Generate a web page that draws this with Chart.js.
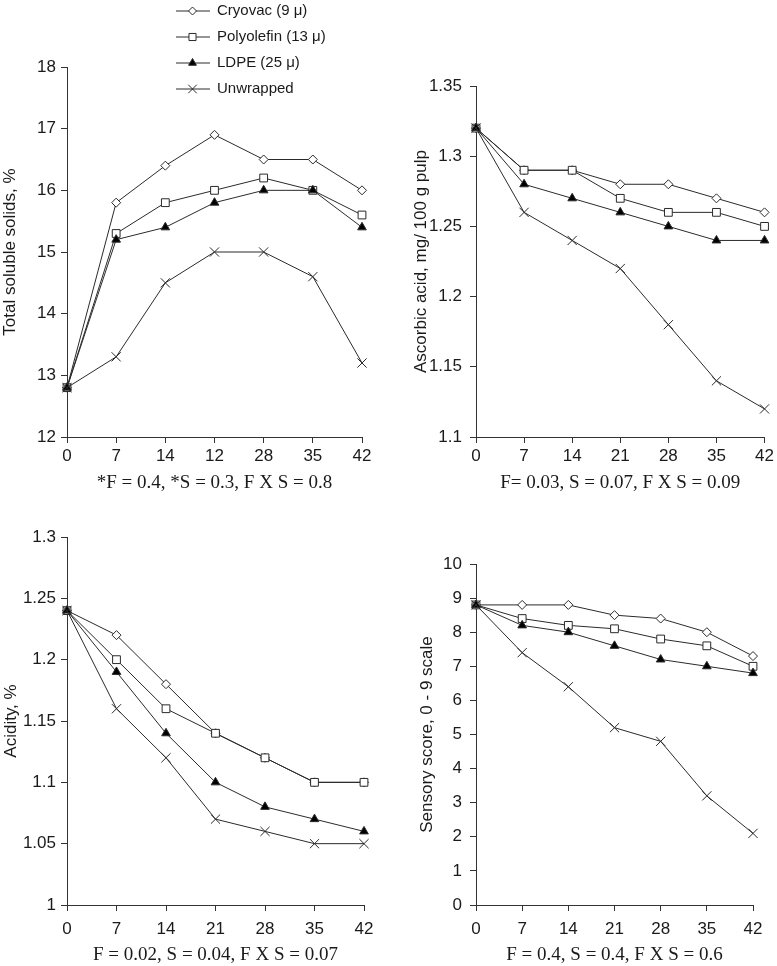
<!DOCTYPE html>
<html>
<head>
<meta charset="utf-8">
<title>Fruit quality under film wrapping</title>
<script src="https://cdn.jsdelivr.net/npm/chart.js@4.4.1/dist/chart.umd.min.js"></script>
<style>
  body { margin: 0; background: #fff; }
  #wrap { position: relative; width: 777px; height: 966px; }
  .panel { position: absolute; }
</style>
</head>
<body>
<div id="wrap">
  <canvas class="panel" id="tss" width="388" height="494" style="left:0;top:0"></canvas>
  <canvas class="panel" id="asc" width="389" height="494" style="left:388px;top:0"></canvas>
  <canvas class="panel" id="acid" width="388" height="472" style="left:0;top:494px"></canvas>
  <canvas class="panel" id="sens" width="389" height="472" style="left:388px;top:494px"></canvas>
</div>
<script>
// storage days (the first panel prints "12" where 21 belongs, kept as in the figure)
const days = ['0', '7', '14', '21', '28', '35', '42'];
const tssDays = ['0', '7', '14', '12', '28', '35', '42'];

const films = ['Cryovac (9 \u03bc)', 'Polyolefin (13 \u03bc)', 'LDPE (25 \u03bc)', 'Unwrapped'];

// Total soluble solids, %
const tssCryovac    = [12.8, 15.8, 16.4, 16.9, 16.5, 16.5, 16.0];
const tssPolyolefin = [12.8, 15.3, 15.8, 16.0, 16.2, 16.0, 15.6];
const tssLdpe       = [12.8, 15.2, 15.4, 15.8, 16.0, 16.0, 15.4];
const tssUnwrapped  = [12.8, 13.3, 14.5, 15.0, 15.0, 14.6, 13.2];
const tssTicks = [12, 13, 14, 15, 16, 17, 18];

// Ascorbic acid, mg/100 g pulp
const ascCryovac    = [1.32, 1.29, 1.29, 1.28, 1.28, 1.27, 1.26];
const ascPolyolefin = [1.32, 1.29, 1.29, 1.27, 1.26, 1.26, 1.25];
const ascLdpe       = [1.32, 1.28, 1.27, 1.26, 1.25, 1.24, 1.24];
const ascUnwrapped  = [1.32, 1.26, 1.24, 1.22, 1.18, 1.14, 1.12];
const ascTicks = [1.1, 1.15, 1.2, 1.25, 1.3, 1.35];

// Acidity, %
const acidCryovac    = [1.24, 1.22, 1.18, 1.14, 1.12, 1.10, 1.10];
const acidPolyolefin = [1.24, 1.20, 1.16, 1.14, 1.12, 1.10, 1.10];
const acidLdpe       = [1.24, 1.19, 1.14, 1.10, 1.08, 1.07, 1.06];
const acidUnwrapped  = [1.24, 1.16, 1.12, 1.07, 1.06, 1.05, 1.05];
const acidTicks = [1, 1.05, 1.1, 1.15, 1.2, 1.25, 1.3];

// Sensory score, 0-9
const sensCryovac    = [8.8, 8.8, 8.8, 8.5, 8.4, 8.0, 7.3];
const sensPolyolefin = [8.8, 8.4, 8.2, 8.1, 7.8, 7.6, 7.0];
const sensLdpe       = [8.8, 8.2, 8.0, 7.6, 7.2, 7.0, 6.8];
const sensUnwrapped  = [8.8, 7.4, 6.4, 5.2, 4.8, 3.2, 2.1];
const sensTicks = [0, 1, 2, 3, 4, 5, 6, 7, 8, 9, 10];

const lineColor = '#2a2a2a';
const axisColor = '#333';
const textColor = '#1a1a1a';
const tickFont = { family: '"Liberation Sans", Arial, sans-serif', size: 17 };
const captionFont = { family: '"Liberation Serif", "Times New Roman", serif', size: 19 };

const markers = [
  { pointStyle: 'rectRot', pointRadius: 4.5, pointBackgroundColor: '#fff' },
  { pointStyle: 'rect', pointRadius: 5.5, pointBackgroundColor: '#fff' },
  { pointStyle: 'triangle', pointRadius: 5, pointBackgroundColor: '#000' },
  { pointStyle: 'crossRot', pointRadius: 6.5, pointBackgroundColor: '#fff' }
];

// line + marker legend drawn inside the first panel
const legendPlugin = {
  id: 'filmLegend',
  afterDraw(chart) {
    const ctx = chart.ctx;
    ctx.save();
    chart.data.datasets.forEach((ds, i) => {
      const y = 11 + i * 26;
      ctx.strokeStyle = lineColor;
      ctx.lineWidth = 1;
      ctx.beginPath();
      ctx.moveTo(176, y);
      ctx.lineTo(210, y);
      ctx.stroke();
      ctx.fillStyle = ds.pointBackgroundColor;
      Chart.helpers.drawPoint(ctx, {
        pointStyle: ds.pointStyle, radius: ds.pointRadius - 0.5, rotation: 0, borderWidth: 1
      }, 192.5, y);
      ctx.fillStyle = textColor;
      ctx.font = '15px "Liberation Sans", Arial, sans-serif';
      ctx.textBaseline = 'middle';
      ctx.textAlign = 'left';
      ctx.fillText(ds.label, 217, y);
    });
    ctx.restore();
  }
};

function makePanel(id, labels, series, yTicks, yTitle, caption, lay) {
  const ctx = document.getElementById(id).getContext('2d');
  return new Chart(ctx, {
    type: 'line',
    data: {
      labels: labels,
      datasets: series.map((vals, i) => Object.assign({
        label: films[i],
        data: vals,
        borderColor: lineColor,
        borderWidth: 1,
        pointBorderColor: lineColor,
        pointBorderWidth: 1,
        tension: 0,
        clip: false,
        order: 4 - i
      }, markers[i]))
    },
    options: {
      responsive: false,
      animation: false,
      layout: { padding: { top: lay.top, right: lay.right, left: 0, bottom: 0 } },
      plugins: { legend: { display: false }, tooltip: { enabled: false } },
      scales: {
        x: {
          offset: false,
          grid: { drawOnChartArea: false, tickLength: 6, tickColor: axisColor },
          border: { color: axisColor, width: 1 },
          ticks: { color: textColor, font: tickFont, padding: lay.xPad, maxRotation: 0, autoSkip: false },
          title: { display: true, text: caption, color: textColor, font: captionFont, padding: 0 },
          afterFit: s => { s.height = lay.xH; }
        },
        y: {
          min: yTicks[0],
          max: yTicks[yTicks.length - 1],
          afterBuildTicks: s => { s.ticks = yTicks.map(v => ({ value: v })); },
          grid: { drawOnChartArea: false, tickLength: 6, tickColor: axisColor },
          border: { color: axisColor, width: 1 },
          ticks: { color: textColor, font: tickFont, padding: lay.yPad, callback: v => String(v) },
          title: { display: true, text: yTitle, color: textColor, font: tickFont, padding: { top: lay.titlePad, bottom: 0 } },
          afterFit: s => { s.width = lay.yW; }
        }
      }
    },
    plugins: lay.legend ? [legendPlugin] : []
  });
}

makePanel('tss', tssDays, [tssCryovac, tssPolyolefin, tssLdpe, tssUnwrapped], tssTicks,
  'Total soluble solids, %', '*F = 0.4, *S = 0.3, F X S = 0.8',
  { top: 67, right: 26, xH: 57, xPad: 3, yW: 67, yPad: 5, titlePad: 0, legend: true });

makePanel('asc', days, [ascCryovac, ascPolyolefin, ascLdpe, ascUnwrapped], ascTicks,
  'Ascorbic acid, mg/ 100 g pulp', 'F= 0.03, S = 0.07, F X S = 0.09',
  { top: 86, right: 10, xH: 57, xPad: 3, yW: 88, yPad: 8, titlePad: 23 });

makePanel('acid', days, [acidCryovac, acidPolyolefin, acidLdpe, acidUnwrapped], acidTicks,
  'Acidity, %', 'F = 0.02, S = 0.04, F X S = 0.07',
  { top: 43, right: 24, xH: 61, xPad: 8, yW: 67, yPad: 5, titlePad: 1 });

makePanel('sens', days, [sensCryovac, sensPolyolefin, sensLdpe, sensUnwrapped], sensTicks,
  'Sensory score, 0 - 9 scale', 'F = 0.4, S = 0.4, F X S = 0.6',
  { top: 70, right: 24, xH: 61, xPad: 8, yW: 88, yPad: 8, titlePad: 29 });
</script>
</body>
</html>
